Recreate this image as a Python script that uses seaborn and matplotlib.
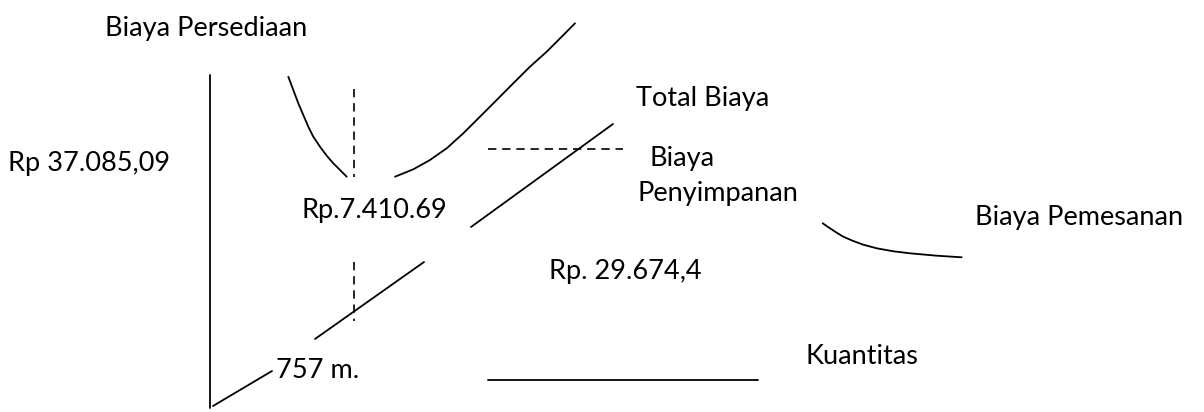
import pandas as pd
import matplotlib.pyplot as plt
import seaborn as sns

# EOQ sketch: picture coords (x to the right, y downward)
axis_x = [210, 210]
axis_y = [75, 408]

# total cost curve, left and right of the minimum
total_left_x = [288.3, 293.3, 298.3, 303.3, 308.3, 313.3, 320, 326.7, 333.3, 340, 346.7]
total_left_y = [76.7, 90, 103.3, 115, 126.7, 136.7, 146.7, 155.7, 163.3, 170, 176.7]
total_right_x = [395, 413.3, 430, 446.7, 463.3, 480, 496.7, 513.3, 530, 546.7, 561.7, 575]
total_right_y = [176.7, 169.3, 160, 148.3, 133.3, 116.7, 100, 83.3, 66.7, 51.7, 36.7, 23.3]

# holding cost line, drawn in three pieces
hold_top_x = [613, 471]
hold_top_y = [124, 227]
hold_mid_x = [424, 315]
hold_mid_y = [262, 339]
hold_low_x = [272, 213]
hold_low_y = [371, 406]

# ordering cost curve
order_x = [822.7, 830, 836.7, 843.3, 853.3, 863.3, 876.7, 893.3, 910, 936.7, 961.7]
order_y = [223.3, 228.3, 232.7, 236.7, 241, 244.7, 248.3, 251.3, 253.3, 255.7, 257.3]

# quantity axis piece
qty_x = [488, 758]
qty_y = [380, 380]

# dashed guides
guide_top_x = [354, 354]
guide_top_y = [89, 177]
guide_low_x = [354, 354]
guide_low_y = [262, 321]
guide_h_x = [488, 623]
guide_h_y = [149, 149]

labels = ["Biaya Persediaan", "Rp 37.085,09", "Total Biaya", "Biaya",
          "Penyimpanan", "Rp.7.410.69", "Biaya Pemesanan", "Rp. 29.674,4",
          "757 m.", "Kuantitas"]
label_pos = [(105, 28), (8, 163), (636, 98), (650, 158), (637, 193),
             (301, 210), (975, 217), (549, 272), (276, 370), (806, 356)]

sns.set_style("white")
plt.rcParams['font.family'] = ['Lato', 'DejaVu Sans']

fig = plt.figure(figsize=(12.04, 4.12), dpi=100)
ax = fig.add_axes([0, 0, 1, 1])

solid = [(axis_x, axis_y), (total_left_x, total_left_y), (total_right_x, total_right_y),
         (hold_top_x, hold_top_y), (hold_mid_x, hold_mid_y), (hold_low_x, hold_low_y),
         (order_x, order_y), (qty_x, qty_y)]
for xs, ys in solid:
    sns.lineplot(x=xs, y=ys, sort=False, estimator=None, color='black', lw=1.3, ax=ax)

dashed = [(guide_top_x, guide_top_y), (guide_low_x, guide_low_y), (guide_h_x, guide_h_y)]
for xs, ys in dashed:
    sns.lineplot(x=xs, y=ys, sort=False, estimator=None, color='black', lw=1.2,
                 linestyle=(0, (5, 3.5)), ax=ax)

for txt, (x, y) in zip(labels, label_pos):
    ax.text(x, y, txt, fontsize=19.5, ha='left', va='center', color='black')

ax.set_xlim(0, 1204)
ax.set_ylim(412, 0)
ax.axis('off')

plt.savefig("out.png", dpi=100)
